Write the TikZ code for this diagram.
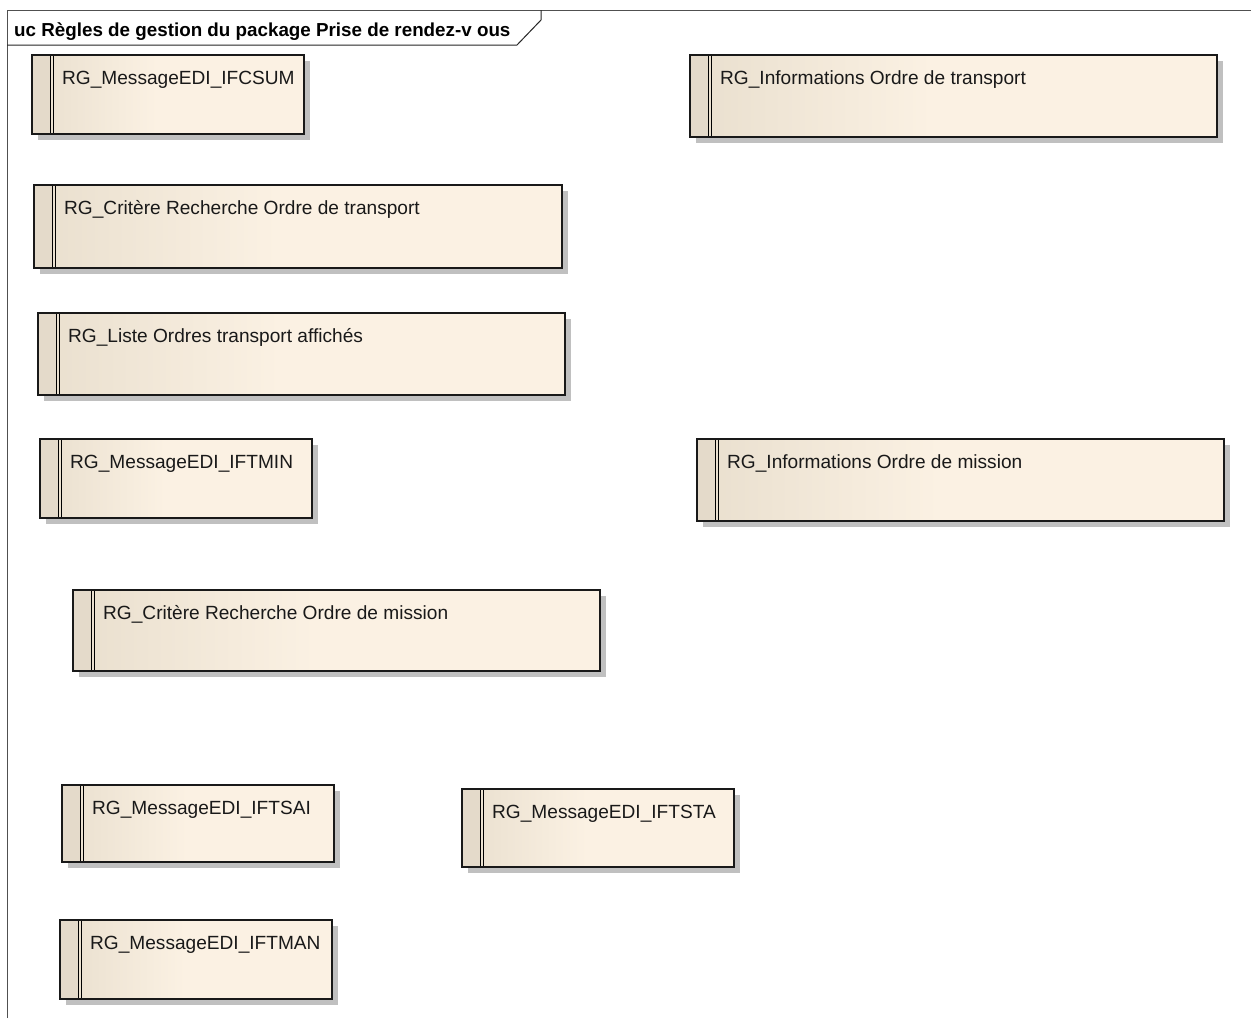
\documentclass[tikz,border=0pt]{standalone}
\usepackage{fontspec}
\setmainfont{Liberation Sans}
\definecolor{rgL}{HTML}{E9DFCE}
\definecolor{rgR}{HTML}{FBF1E3}
\definecolor{stripc}{HTML}{E4DACA}
\definecolor{shadowc}{HTML}{C0C0C0}
\definecolor{framec}{HTML}{505050}
\pgfdeclarehorizontalshading{rgshade}{100bp}{color(0bp)=(rgL); color(25bp)=(rgL); color(48bp)=(rgR); color(100bp)=(rgR)}
\newcommand{\rgbox}[6]{%
  \fill[shadowc] (#2+6,#3+6) rectangle (#4+6,#5+6);
  \node[rgbody, anchor=north west, minimum width={#4-#2}, minimum height={#5-#3}] (#1) at (#2,#3) {};
  \fill[stripc] (#1.north west) rectangle ([xshift=18pt]#1.south west);
  \draw[rgline] ([xshift=18pt]#1.north west) -- ([xshift=18pt]#1.south west);
  \draw[rgline] ([xshift=21pt]#1.north west) -- ([xshift=21pt]#1.south west);
  \draw[rgborder] (#1.north west) rectangle (#1.south east);
  \node[rgtext, anchor=base west] (#1t) at ([xshift=30pt,yshift=-29pt]#1.north west) {#6};
}
\begin{document}
\begin{tikzpicture}[x=1pt,y=-1pt,
  rgbody/.style={shading=rgshade, inner sep=0pt, outer sep=0pt},
  rgline/.style={line width=1pt, black},
  rgborder/.style={line width=1.5pt, black!90},
  rgtext/.style={font=\fontsize{19.1}{22}\selectfont, text=black!90, inner sep=0pt},
  hdrtext/.style={font=\fontsize{18.8}{22}\selectfont\bfseries, inner sep=0pt},
  frameline/.style={line width=1pt, framec},
  hdrline/.style={line width=1pt, black!85}]
\useasboundingbox (0,0) rectangle (1251,1018);
\fill[white] (0,0) rectangle (1251,1018);
% frame
\draw[frameline] (7,1018) -- (7,10) -- (1251,10);
\coordinate (h1) at (7,45);
\coordinate (h2) at (517,45);
\coordinate (h3) at (541,20);
\coordinate (h4) at (541,10);
\draw[hdrline] (h1) -- (h2) -- (h3) -- (h4);
\node[hdrtext, anchor=base west] (title) at (14,36) {uc Règles de gestion du package Prise de rendez-v ous};
% boxes
\rgbox{b1}{32}{55}{304}{134}{RG\_MessageEDI\_IFCSUM}
\rgbox{b2}{690}{55}{1217}{137}{RG\_Informations Ordre de transport}
\rgbox{b3}{34}{185}{562}{268}{RG\_Critère Recherche Ordre de transport}
\rgbox{b4}{38}{313}{565}{395}{RG\_Liste Ordres transport affichés}
\rgbox{b5}{40}{439}{312}{518}{RG\_MessageEDI\_IFTMIN}
\rgbox{b6}{697}{439}{1224}{521}{RG\_Informations Ordre de mission}
\rgbox{b7}{73}{590}{600}{671}{RG\_Critère Recherche Ordre de mission}
\rgbox{b8}{62}{785}{334}{862}{RG\_MessageEDI\_IFTSAI}
\rgbox{b9}{462}{789}{734}{867}{RG\_MessageEDI\_IFTSTA}
\rgbox{b10}{60}{920}{332}{999}{RG\_MessageEDI\_IFTMAN}
\end{tikzpicture}
\end{document}
